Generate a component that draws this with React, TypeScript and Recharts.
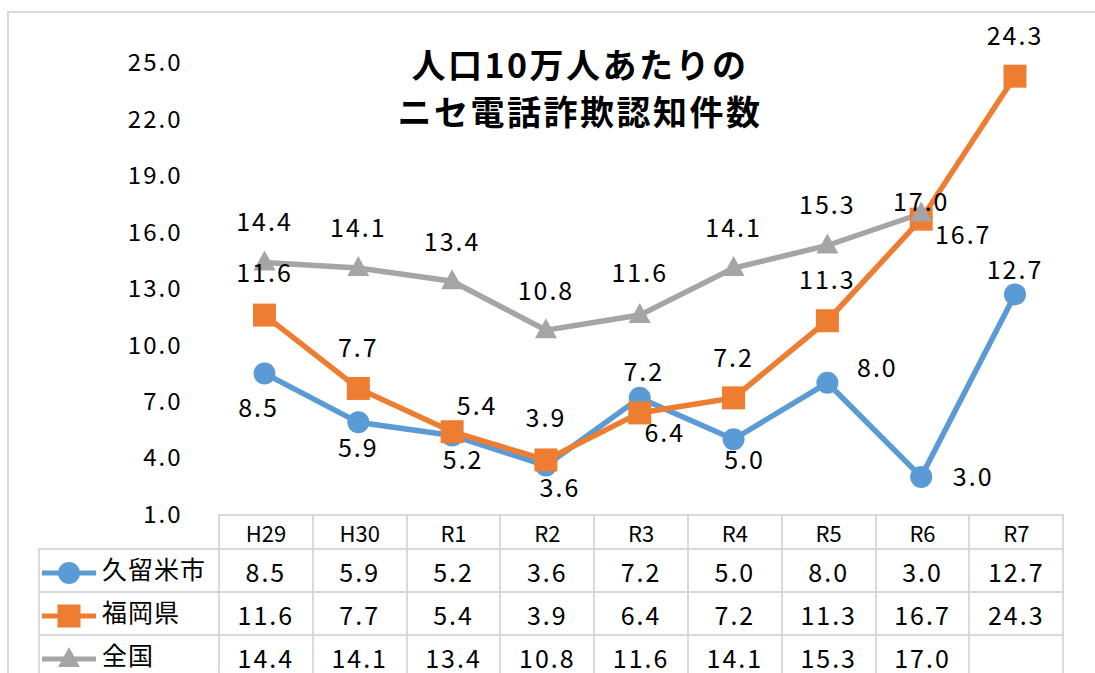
import { LineChart, Line, XAxis, YAxis, LabelList } from 'recharts';

const years = ['H29', 'H30', 'R1', 'R2', 'R3', 'R4', 'R5', 'R6', 'R7'];
const kurume = [8.5, 5.9, 5.2, 3.6, 7.2, 5.0, 8.0, 3.0, 12.7];
const fukuoka = [11.6, 7.7, 5.4, 3.9, 6.4, 7.2, 11.3, 16.7, 24.3];
const zenkoku = [14.4, 14.1, 13.4, 10.8, 11.6, 14.1, 15.3, 17.0, null];
const yTicks = [1, 4, 7, 10, 13, 16, 19, 22, 25];

// where excel put each data label, relative to its point
const kurumeLabelPos = [[-6, 35], [0, 26], [11, 25], [14, 23], [4, -26], [11, 21], [50, -15], [52, 0], [0, -24]];
const fukuokaLabelPos = [[0, -42], [0, -40], [25, -25], [0, -42], [25, 20], [0, -40], [0, -40], [42, 16], [0, -40]];
const zenkokuLabelPos = [[0, -40], [0, -40], [0, -39], [0, -39], [0, -42], [0, -40], [0, -40], [0, -11], [0, 0]];

const BLUE = '#5B9BD5';
const ORANGE = '#ED7D31';
const GRAY = '#A5A5A5';
const FONT = '"Noto Sans CJK JP", "Noto Sans", sans-serif';

const data = years.map((y, i) => ({
  year: y,
  kurume: kurume[i],
  fukuoka: fukuoka[i],
  zenkoku: zenkoku[i],
}));

const series = [
  { name: '久留米市', key: 'kurume', values: kurume, color: BLUE, marker: 'circle', pos: kurumeLabelPos },
  { name: '福岡県', key: 'fukuoka', values: fukuoka, color: ORANGE, marker: 'square', pos: fukuokaLabelPos },
  { name: '全国', key: 'zenkoku', values: zenkoku, color: GRAY, marker: 'triangle', pos: zenkokuLabelPos },
];

function Marker({ cx, cy, kind, color }: any) {
  if (cx == null || cy == null) return null;
  if (kind === 'square') return <rect x={cx - 11.5} y={cy - 11.5} width={23} height={23} fill={color} />;
  if (kind === 'triangle')
    return <polygon points={`${cx},${cy - 12} ${cx + 11},${cy + 8} ${cx - 11},${cy + 8}`} fill={color} />;
  return <circle cx={cx} cy={cy} r={11} fill={color} />;
}

const makeLabel = (pos: number[][]) => (props: any) => {
  const { x, y, value, index } = props;
  if (value == null || x == null) return null;
  const [dx, dy] = pos[index] || [0, -40];
  return (
    <text x={x + dx} y={y + dy} dy="0.35em" textAnchor="middle" fontSize={25} fontFamily={FONT} fill="#000" letterSpacing={2}>
      {Number(value).toFixed(1)}
    </text>
  );
};

const YTick = ({ x, y, payload }: any) => (
  <text x={x - 35} y={y} dy="0.35em" textAnchor="end" fontSize={24} fontFamily={FONT} fill="#000" letterSpacing={2}>
    {payload.value.toFixed(1)}
  </text>
);

function LegendIcon({ kind, color }: any) {
  return (
    <svg width={58} height={26} style={{ verticalAlign: 'middle', marginRight: 4 }}>
      <line x1={2} y1={13} x2={56} y2={13} stroke={color} strokeWidth={5} />
      <Marker cx={29} cy={13} kind={kind} color={color} />
    </svg>
  );
}

const cellBorder = '2px solid #D9D9D9';
const cell = { border: cellBorder, textAlign: 'center' as const, padding: 0, fontSize: 25, letterSpacing: 2, lineHeight: '26px' };

export default function App() {
  return (
    <div style={{ position: 'absolute', left: 0, top: 0, width: 1095, height: 673, overflow: 'hidden', background: '#fff', fontFamily: FONT }}>
      <div style={{ position: 'absolute', left: 7, top: 11, width: 1200, height: 800, borderLeft: cellBorder, borderTop: cellBorder }} />
      <div style={{ position: 'absolute', left: 0, top: 40, width: 1160, textAlign: 'center', fontSize: 34, fontWeight: 700, lineHeight: '47px', letterSpacing: 2.5 }}>
        人口10万人あたりの
        <br />
        ニセ電話詐欺認知件数
      </div>
      <div style={{ position: 'absolute', left: 0, top: 0 }}>
        <LineChart width={1095} height={673} data={data} margin={{ top: 63, right: 33, bottom: 158.5, left: 0 }}>
          <XAxis dataKey="year" hide scale="point" padding={{ left: 47, right: 47 }} />
          <YAxis
            domain={[1, 25]}
            ticks={yTicks}
            width={217.5}
            axisLine={false}
            tickLine={false}
            tickSize={0}
            tickMargin={0}
            tick={<YTick />}
            interval={0}
          />
          {series.map((s) => (
            <Line
              key={s.key}
              dataKey={s.key}
              stroke={s.color}
              strokeWidth={5.5}
              isAnimationActive={false}
              dot={(p: any) => <Marker key={p.index} cx={p.cx} cy={p.cy} kind={s.marker} color={s.color} />}
              activeDot={false}
            >
              <LabelList dataKey={s.key} content={makeLabel(s.pos)} />
            </Line>
          ))}
        </LineChart>
      </div>
      <table
        style={{
          position: 'absolute',
          left: 38,
          top: 514,
          borderCollapse: 'collapse',
          tableLayout: 'fixed',
          width: 1025,
          fontFamily: FONT,
        }}
      >
        <colgroup>
          <col style={{ width: 180 }} />
          {years.map((y) => (
            <col key={y} style={{ width: 93.8 }} />
          ))}
        </colgroup>
        <tbody>
          <tr style={{ height: 34 }}>
            <td style={{ padding: 0 }} />
            {years.map((y) => (
              <td key={y} style={{ ...cell, fontSize: 22, letterSpacing: 0 }}>
                {y}
              </td>
            ))}
          </tr>
          {series.map((s) => (
            <tr key={s.key} style={{ height: 43 }}>
              <td style={{ ...cell, textAlign: 'left', fontSize: 25, letterSpacing: 1, whiteSpace: 'nowrap' }}>
                <LegendIcon kind={s.marker} color={s.color} />
                {s.name}
              </td>
              {s.values.map((v, i) => (
                <td key={i} style={cell}>
                  {v == null ? '' : v.toFixed(1)}
                </td>
              ))}
            </tr>
          ))}
        </tbody>
      </table>
    </div>
  );
}
